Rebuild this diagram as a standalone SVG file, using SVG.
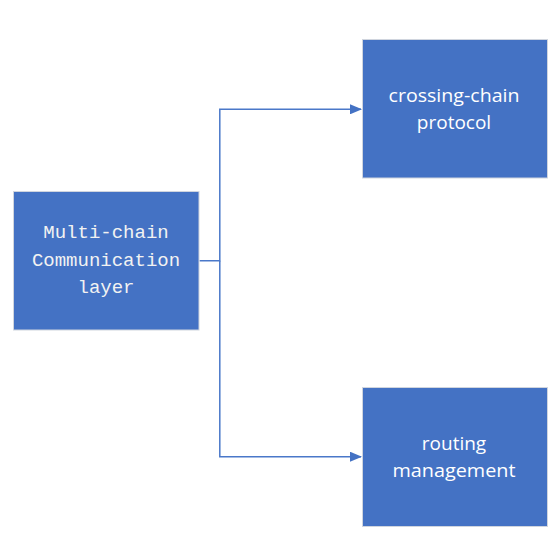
<svg xmlns="http://www.w3.org/2000/svg" width="559" height="543" viewBox="0 0 559 543">
<style>
.box{fill:#4472C4;stroke:#d0d5de;stroke-width:1}
.mono{font-family:"Liberation Mono","DejaVu Sans Mono",monospace;font-size:19px;fill:#f2f2f2;text-anchor:middle}
.sans{font-family:"Open Sans","Liberation Sans",sans-serif;font-size:19px;fill:#ffffff;text-anchor:middle}
.conn{fill:none;stroke:#4A78C9;stroke-width:1.5}
</style>
<defs>
<marker id="arr" markerWidth="12" markerHeight="10" refX="11" refY="5" orient="auto" markerUnits="userSpaceOnUse">
<path d="M0,0 L12,5 L0,10 Z" fill="#4472C4"/>
</marker>
</defs>
<rect width="559" height="543" fill="#ffffff"/>
<g id="connectors">
<path class="conn" d="M199.5,260.7 H219.8 V109.3 H361" marker-end="url(#arr)"/>
<path class="conn" d="M219.8,260.7 V456.7 H361" marker-end="url(#arr)"/>
</g>
<g id="multi-chain">
<rect class="box" x="13.5" y="191.5" width="185.5" height="138.5"/>
<text class="mono" x="106" y="238">Multi-chain</text>
<text class="mono" x="106" y="265.5">Communication</text>
<text class="mono" x="106" y="293">layer</text>
</g>
<g id="crossing-chain">
<rect class="box" x="362.5" y="39.5" width="185" height="138.5"/>
<text class="sans" x="454" y="101.5" textLength="131" lengthAdjust="spacingAndGlyphs">crossing-chain</text>
<text class="sans" x="454" y="128.5">protocol</text>
</g>
<g id="routing">
<rect class="box" x="362.5" y="387.5" width="185" height="139"/>
<text class="sans" x="454" y="450">routing</text>
<text class="sans" x="454" y="476.5" textLength="123" lengthAdjust="spacingAndGlyphs">management</text>
</g>
</svg>
